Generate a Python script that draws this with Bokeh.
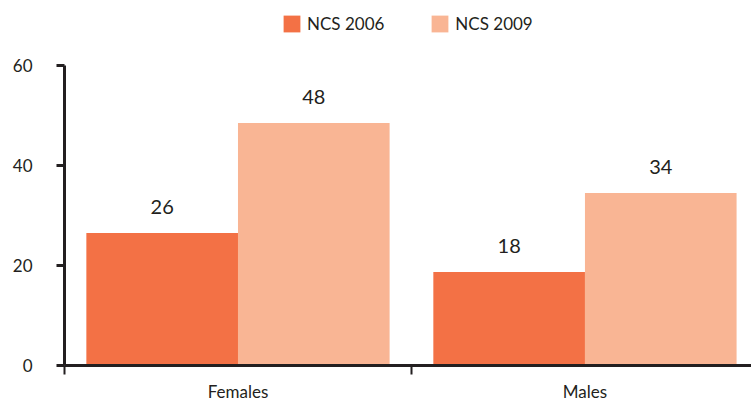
from bokeh.plotting import figure
from bokeh.models import Range1d, FixedTicker, LabelSet, ColumnDataSource, Legend, LegendItem
from bokeh.transform import dodge
from bokeh.core.properties import value
from bokeh.embed import file_html
from bokeh.resources import INLINE

categories = ["Females", "Males"]
ncs_2006 = [26.5, 18.7]
ncs_2009 = [48.5, 34.5]
series_names = ["NCS 2006", "NCS 2009"]
y_ticks = [0, 20, 40, 60]

C06 = "#F37145"
C09 = "#F9B594"
INK = "#231F20"
FONT = "Lato"

xs = [i + 0.5 for i in range(len(categories))]
src = ColumnDataSource(dict(
    x=xs, y06=ncs_2006, y09=ncs_2009,
    l06=[str(int(v)) for v in ncs_2006],
    l09=[str(int(v)) for v in ncs_2009],
))

# frame spans 13..365 px; headroom above 60 holds the legend
p = figure(width=751, height=404, output_backend="svg", toolbar_location=None,
           x_range=Range1d(0, 1.98), y_range=Range1d(0, 70.4),
           min_border_left=64, min_border_right=0, min_border_top=13, min_border_bottom=39)
p.outline_line_color = None
p.xgrid.visible = False
p.ygrid.visible = False

off = 0.2185
bw = 0.437
r1 = p.vbar(x=dodge("x", -off), top="y06", width=bw, source=src, fill_color=C06, line_color=None)
r2 = p.vbar(x=dodge("x", off), top="y09", width=bw, source=src, fill_color=C09, line_color=None)

for col, lab in ((-off, "l06"), (off, "l09")):
    ycol = "y06" if lab == "l06" else "y09"
    ls = LabelSet(x=dodge("x", col), y=ycol, text=lab, source=src, y_offset=26,
                  text_align="center", text_baseline="middle",
                  text_font=value(FONT), text_font_size=value("20px"), text_color=INK)
    p.add_layout(ls)

# y axis
ya = p.yaxis[0]
ya.ticker = FixedTicker(ticks=y_ticks, minor_ticks=[])
ya.bounds = (y_ticks[0], y_ticks[-1])
ya.axis_line_width = 3
ya.axis_line_color = INK
ya.major_tick_out = 8
ya.major_tick_in = 0
ya.major_tick_line_width = 3
ya.major_tick_line_color = INK
ya.minor_tick_line_color = None
ya.major_label_standoff = 24
ya.major_label_text_font = FONT
ya.major_label_text_font_size = "17px"
ya.major_label_text_color = INK

# x axis
xa = p.xaxis[0]
xa.ticker = FixedTicker(ticks=xs, minor_ticks=[float(i) for i in range(len(categories) + 1)])
xa.major_label_overrides = {x: c for x, c in zip(xs, categories)}
xa.axis_line_width = 3
xa.axis_line_color = INK
xa.major_tick_out = 0
xa.major_tick_in = 0
xa.major_tick_line_color = None
xa.minor_tick_out = 9
xa.minor_tick_in = 0
xa.minor_tick_line_width = 2
xa.minor_tick_line_color = INK
xa.major_label_standoff = 6
xa.major_label_text_font = FONT
xa.major_label_text_font_size = "17px"
xa.major_label_text_color = INK

legend = Legend(items=[LegendItem(label=series_names[0], renderers=[r1]),
                       LegendItem(label=series_names[1], renderers=[r2])],
                orientation="horizontal", location=(217, 331),
                glyph_width=21, glyph_height=21, label_standoff=5, spacing=45,
                padding=0, margin=0, border_line_color=None, background_fill_alpha=0,
                label_text_font=FONT, label_text_font_size="17px", label_text_color=INK)
p.add_layout(legend)

open("out.html", "w").write(file_html(p, INLINE))
